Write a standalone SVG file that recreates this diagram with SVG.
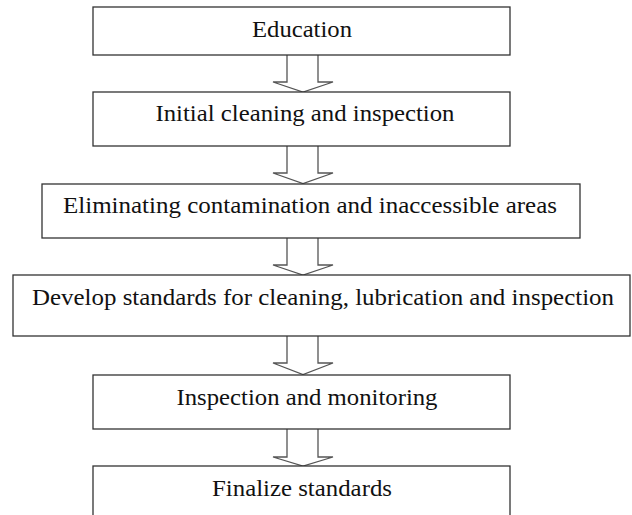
<svg xmlns="http://www.w3.org/2000/svg" width="632" height="515" viewBox="0 0 632 515">
<style>
.box{fill:#fff;stroke:#333;stroke-width:1.3}
.lbl{font-family:"Liberation Serif",serif;font-size:22.5px;fill:#111;text-anchor:middle}
.arr{fill:#fff;stroke:#555;stroke-width:1.3;stroke-linejoin:miter}
</style>
<rect width="632" height="515" fill="#fff"/>
<g id="connectors">
<path class="arr" d="M287,55 V82 H273 L303,92 L333,82 H318 V55"/>
<path class="arr" d="M287,146 V173 H273 L303,183.5 L333,173 H318 V146"/>
<path class="arr" d="M287,238 V265 H273 L303,275 L333,265 H318 V238"/>
<path class="arr" d="M287,336 V363 H273 L303,374.5 L333,363 H318 V336"/>
<path class="arr" d="M287,429 V457 H273 L303,466 L333,457 H318 V429"/>
</g>
<g id="n1"><rect class="box" x="93" y="7" width="417" height="48"/><text class="lbl" x="302" y="37" textLength="100" lengthAdjust="spacingAndGlyphs">Education</text></g>
<g id="n2"><rect class="box" x="93" y="92" width="417" height="54"/><text class="lbl" x="305" y="121" textLength="299" lengthAdjust="spacingAndGlyphs">Initial cleaning and inspection</text></g>
<g id="n3"><rect class="box" x="42" y="184" width="538" height="54"/><text class="lbl" x="310" y="213" textLength="494" lengthAdjust="spacingAndGlyphs">Eliminating contamination and inaccessible areas</text></g>
<g id="n4"><rect class="box" x="13" y="275" width="617" height="61"/><text class="lbl" x="323" y="305" textLength="582" lengthAdjust="spacingAndGlyphs">Develop standards for cleaning, lubrication and inspection</text></g>
<g id="n5"><rect class="box" x="93" y="375" width="417" height="54"/><text class="lbl" x="307" y="405" textLength="261" lengthAdjust="spacingAndGlyphs">Inspection and monitoring</text></g>
<g id="n6"><rect class="box" x="93" y="466" width="417" height="60"/><text class="lbl" x="302" y="496" textLength="180" lengthAdjust="spacingAndGlyphs">Finalize standards</text></g>
</svg>
